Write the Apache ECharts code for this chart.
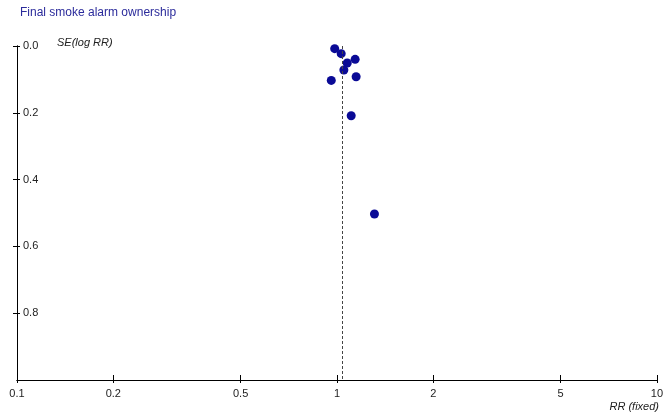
<!DOCTYPE html>
<html>
<head>
<meta charset="utf-8">
<script src="https://cdn.jsdelivr.net/npm/echarts@6/dist/echarts.min.js"></script>
<style>html,body{margin:0;padding:0;background:#fff}#c{width:666px;height:413px}</style>
</head>
<body>
<div id="c"></div>
<script>
const titleText = "Final smoke alarm ownership";
const xName = "RR (fixed)";
const yName = "SE(log RR)";
const xTicks = [0.1, 0.2, 0.5, 1, 2, 5, 10];
const yTicks = [0, 0.2, 0.4, 0.6, 0.8];
const rrValues = [0.984, 1.031, 1.140, 1.077, 1.051, 0.960, 1.148, 1.108, 1.31];
const seValues = [0.008, 0.023, 0.040, 0.051, 0.072, 0.103, 0.092, 0.209, 0.503];
const pooledRR = 1.036;

const pts = rrValues.map((v, i) => [v, seValues[i]]);
const font = "Liberation Sans, Arial, sans-serif";
const chart = echarts.init(document.getElementById('c'), null, {renderer: 'canvas'});
const xBase = {
  type: 'log', logBase: 10, min: 0.1, max: 10, position: 'bottom', offset: 0,
  axisLine: {show: true, onZero: false, lineStyle: {color: '#000', width: 1}},
  splitLine: {show: false}
};
const yBase = {
  type: 'value', inverse: true, min: 0, max: 1, interval: 0.2, position: 'left', offset: 0,
  axisLine: {show: true, onZero: false, lineStyle: {color: '#000', width: 1}},
  splitLine: {show: false}
};
chart.setOption({
  animation: false,
  backgroundColor: '#fff',
  grid: {left: 17, right: 6, top: 46, bottom: 33},
  xAxis: [
    Object.assign({}, xBase, {
      axisTick: {show: true, inside: false, length: 3, customValues: xTicks, lineStyle: {color: '#000'}},
      axisLabel: {show: true, customValues: xTicks, margin: 8, color: '#222', fontFamily: font, fontSize: 11,
        formatter: v => String(+v.toPrecision(3))}
    }),
    Object.assign({}, xBase, {
      axisTick: {show: true, inside: true, length: 5, customValues: xTicks, lineStyle: {color: '#000'}},
      axisLabel: {show: false}
    })
  ],
  yAxis: [
    Object.assign({}, yBase, {
      axisTick: {show: true, inside: false, length: 4, customValues: yTicks, lineStyle: {color: '#000'}},
      axisLabel: {show: true, inside: true, customValues: yTicks, margin: 6, color: '#222', fontFamily: font, fontSize: 11,
        formatter: v => v.toFixed(1)}
    }),
    Object.assign({}, yBase, {
      axisTick: {show: true, inside: true, length: 3, customValues: yTicks, lineStyle: {color: '#000'}},
      axisLabel: {show: false}
    })
  ],
  graphic: [
    {type: 'text', left: 20, top: 7, style: {text: titleText, fill: '#2b2b9b', font: '12px ' + font}},
    {type: 'text', left: 57, top: 37, style: {text: yName, fill: '#222', font: 'italic 11px ' + font}},
    {type: 'text', right: 7, top: 401, style: {text: xName, fill: '#222', font: 'italic 11px ' + font}}
  ],
  series: [{
    type: 'scatter', xAxisIndex: 0, yAxisIndex: 0,
    data: pts, symbol: 'circle', symbolSize: 9,
    itemStyle: {color: '#0a0a96', opacity: 1},
    markLine: {
      silent: true, symbol: 'none', label: {show: false},
      lineStyle: {color: '#444', type: [3, 2], width: 1},
      data: [[{coord: [pooledRR, 0]}, {coord: [pooledRR, 1]}]]
    }
  }]
});
</script>
</body>
</html>
